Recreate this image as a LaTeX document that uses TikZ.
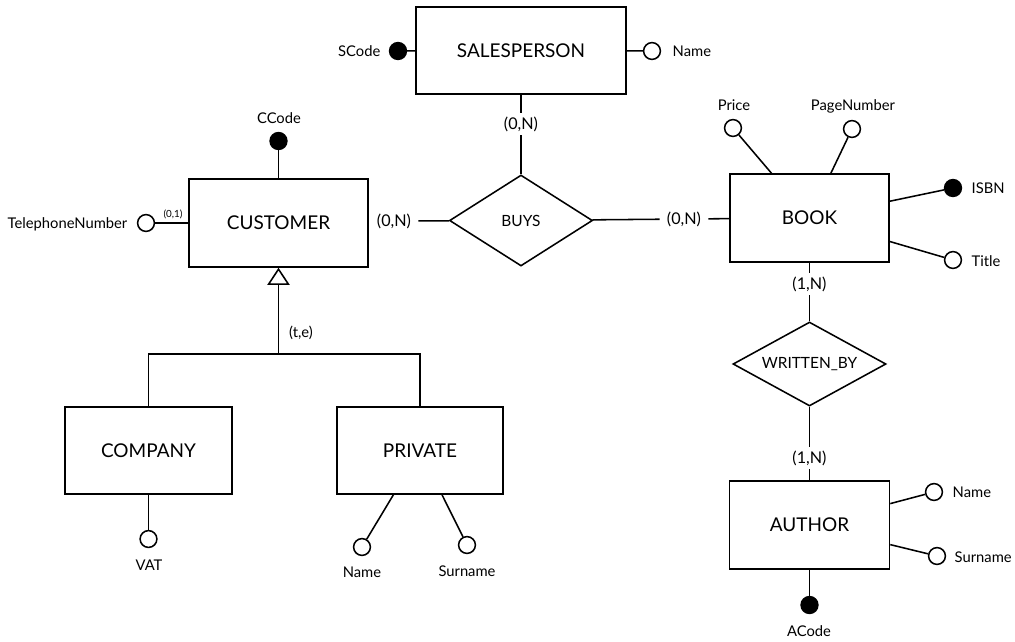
\documentclass[tikz,border=0pt]{standalone}
\usepackage{fontspec}
\setmainfont{Lato}
\usetikzlibrary{shapes.geometric}
\usetikzlibrary{arrows.meta}

\tikzset{
  entity/.style={draw, line width=1.1pt, inner sep=0pt, font=\fontsize{13.5}{16}\selectfont},
  relation/.style={draw, diamond, aspect=1.6, line width=1.1pt, inner sep=0pt, font=\fontsize{11}{13}\selectfont},
  attr/.style={draw, circle, line width=1.1pt, fill=white, inner sep=0pt, minimum size=0.42cm},
  keyattr/.style={attr, fill=black},
  attrname/.style={inner sep=1pt, font=\fontsize{10.5}{12}\selectfont},
  card/.style={inner xsep=5pt, inner ysep=2.5pt, font=\fontsize{11.5}{13}\selectfont},
  link/.style={line width=1.1pt},
}

\begin{document}
\begin{tikzpicture}[x=0.025cm, y=-0.025cm]
\useasboundingbox (0,0) rectangle (1015,641);
% entities
\node[entity, minimum width=5.25cm, minimum height=2.175cm] (sales) at (521,50.5) {SALESPERSON};
\node[entity, minimum width=4.475cm, minimum height=2.2cm] (customer) at (278.5,223) {CUSTOMER};
\node[entity, minimum width=3.975cm, minimum height=2.2cm] (book) at (809.5,218) {BOOK};
\node[entity, minimum width=4.175cm, minimum height=2.175cm] (company) at (148.5,450.5) {COMPANY};
\node[entity, minimum width=4.15cm, minimum height=2.175cm] (private) at (420,450.5) {PRIVATE};
\node[entity, minimum width=4cm, minimum height=2.2cm] (author) at (809.5,525) {AUTHOR};
% relationships
\node[relation, minimum width=3.575cm, minimum height=2.275cm] (buys) at (521,220.5) {BUYS};
\node[relation, minimum width=3.825cm, minimum height=2.1cm] (written) at (809.5,364) {WRITTEN\_BY};
% cardinalities
\node[card] (salesc) at (521,124) {(0,N)};
\node[card] (custc) at (394,221) {(0,N)};
\node[card] (bookc) at (684,219) {(0,N)};
\node[card] (bookw) at (809.5,284) {(1,N)};
\node[card] (authw) at (809.5,458) {(1,N)};
\draw[link] (sales) -- (salesc) -- (buys);
\draw[link] (custc) -- (buys) -- (bookc) -- (book);
\draw[link] (book) -- (bookw) -- (written) -- (authw) -- (author);
% salesperson attributes
\node[keyattr] (scode) at (398,51) {};
\node[attrname, anchor=east] (scodet) at (382,51) {SCode};
\node[attr] (sname) at (652,51) {};
\node[attrname, anchor=west] (snamet) at (671,51) {Name};
\draw[link] (scode) -- (sales);
\draw[link] (sname) -- (sales);
% customer attributes
\node[keyattr] (ccode) at (278.5,141) {};
\node[attrname] (ccodet) at (279,118) {CCode};
\node[attr] (phone) at (146,223) {};
\node[attrname, anchor=east] (phonet) at (129,224) {TelephoneNumber};
\node[inner sep=1pt, font=\fontsize{7}{8}\selectfont] (phonec) at (173,214) {(0,1)};
\draw[link] (ccode) -- (customer);
\draw[link] (phone) -- (customer);
% book attributes
\node[attr] (price) at (733,128) {};
\node[attrname] (pricet) at (734,105) {Price};
\node[attr] (pages) at (852,129) {};
\node[attrname] (pagest) at (853,106) {PageNumber};
\node[keyattr] (isbn) at (953,188) {};
\node[attrname, anchor=west] (isbnt) at (970,188) {ISBN};
\node[attr] (title) at (953,260) {};
\node[attrname, anchor=west] (titlet) at (970,261) {Title};
\foreach \a in {price,pages,isbn,title}
  \draw[link] (\a) -- (book);
% author attributes
\node[attr] (aname) at (934,492) {};
\node[attrname, anchor=west] (anamet) at (951,492) {Name};
\node[attr] (asurname) at (937,556) {};
\node[attrname, anchor=west] (asurnamet) at (953,557) {Surname};
\node[keyattr] (acode) at (809.5,605) {};
\node[attrname] (acodet) at (809,631) {ACode};
\foreach \a in {aname,asurname,acode}
  \draw[link] (\a) -- (author);
% generalization
\coordinate (isa) at (278.5,354);
\draw[link, -{Triangle[open, length=0.43cm, width=0.56cm]}] (isa) -- (customer);
\draw[link] (company) |- (isa) -| (private);
\node[card, font=\fontsize{10.5}{12}\selectfont] (isat) at (301,333) {(t,e)};
% subclass attributes
\node[attr] (vat) at (148.5,539) {};
\node[attrname] (vatt) at (149,565) {VAT};
\draw[link] (vat) -- (company);
\node[attr] (pname) at (362,547) {};
\node[attrname] (pnamet) at (362,572) {Name};
\node[attr] (psurname) at (467,545) {};
\node[attrname] (psurnamet) at (467,571) {Surname};
\draw[link] (pname) -- (private);
\draw[link] (psurname) -- (private);
\end{tikzpicture}
\end{document}
